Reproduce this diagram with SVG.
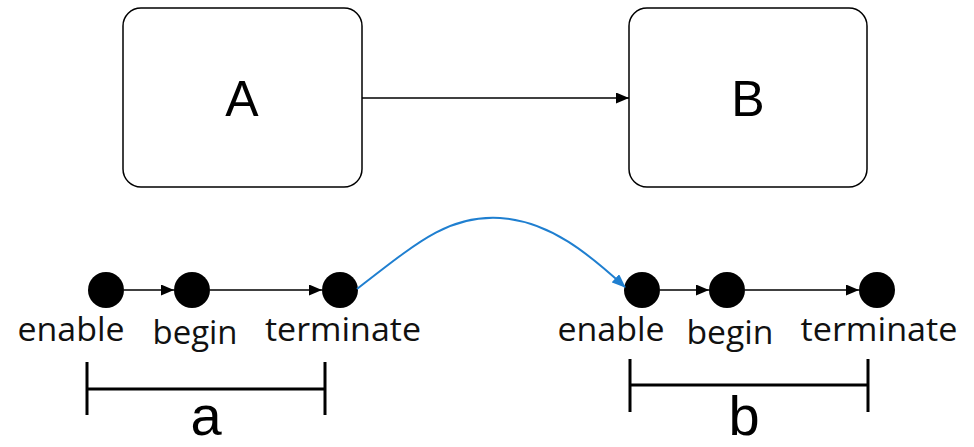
<svg xmlns="http://www.w3.org/2000/svg" width="974" height="447" viewBox="0 0 974 447">
<defs>
<style>
.box{fill:#fff;stroke:#000;stroke-width:1.5}
.big{font-family:"Liberation Sans",Arial,sans-serif;font-size:50px;text-anchor:middle;fill:#000}
.lbl{font-family:"Open Sans","Liberation Sans",sans-serif;font-size:32px;text-anchor:middle;fill:#111}
.dot{fill:#000}
.edge{stroke:#000;stroke-width:1.5;fill:none}
.brk{stroke:#000;stroke-width:3;fill:none}
.seg{font-family:"Liberation Sans",sans-serif;font-size:56px;text-anchor:middle;fill:#000}
</style>
<marker id="ah" markerWidth="13" markerHeight="11" refX="13" refY="5.5" orient="auto" markerUnits="userSpaceOnUse">
<path d="M0,0 L13,5.5 L0,11 Z" fill="#000"/>
</marker>
<marker id="ahb" markerWidth="14" markerHeight="11" refX="13" refY="5.5" orient="auto" markerUnits="userSpaceOnUse">
<path d="M0,0 L14,5.5 L0,11 Z" fill="#1f7fd0"/>
</marker>
</defs>
<g id="nodeA"><rect class="box" x="123" y="8" width="239" height="179" rx="18"/><text class="big" x="242" y="116">A</text></g>
<g id="nodeB"><rect class="box" x="629" y="8" width="238" height="179" rx="18"/><text class="big" x="748" y="116">B</text></g>
<g id="a_enable"><circle class="dot" cx="106" cy="290" r="18"/><text class="lbl" x="71" y="341" textLength="107" lengthAdjust="spacingAndGlyphs">enable</text></g>
<g id="a_begin"><circle class="dot" cx="192" cy="290" r="18"/><text class="lbl" x="195" y="344" textLength="85" lengthAdjust="spacingAndGlyphs">begin</text></g>
<g id="a_terminate"><circle class="dot" cx="340" cy="290" r="18"/><text class="lbl" x="343" y="341" textLength="156" lengthAdjust="spacingAndGlyphs">terminate</text></g>
<g id="b_enable"><circle class="dot" cx="642" cy="290" r="18"/><text class="lbl" x="611" y="341" textLength="107" lengthAdjust="spacingAndGlyphs">enable</text></g>
<g id="b_begin"><circle class="dot" cx="727" cy="290" r="18"/><text class="lbl" x="730" y="344" textLength="87" lengthAdjust="spacingAndGlyphs">begin</text></g>
<g id="b_terminate"><circle class="dot" cx="877" cy="290" r="18"/><text class="lbl" x="879" y="341" textLength="157" lengthAdjust="spacingAndGlyphs">terminate</text></g>
<g id="connectors">
<line class="edge" x1="362" y1="98" x2="629" y2="98" marker-end="url(#ah)"/>
<line class="edge" x1="124" y1="290" x2="174" y2="290" marker-end="url(#ah)"/>
<line class="edge" x1="210" y1="290" x2="322" y2="290" marker-end="url(#ah)"/>
<line class="edge" x1="660" y1="290" x2="709" y2="290" marker-end="url(#ah)"/>
<line class="edge" x1="745" y1="290" x2="859" y2="290" marker-end="url(#ah)"/>
<path d="M357,289 C420,240 450,215 500,218 C550,221 590,255 625,287" stroke="#1f7fd0" stroke-width="2" fill="none" marker-end="url(#ahb)"/>
</g>
<g id="span_a"><path class="brk" d="M87,362 V415 M325,362 V415 M87,389 H325"/><text class="seg" x="206" y="435">a</text></g>
<g id="span_b"><path class="brk" d="M630,359 V412 M868,359 V412 M630,385 H868"/><text class="seg" x="744" y="435">b</text></g>
</svg>
